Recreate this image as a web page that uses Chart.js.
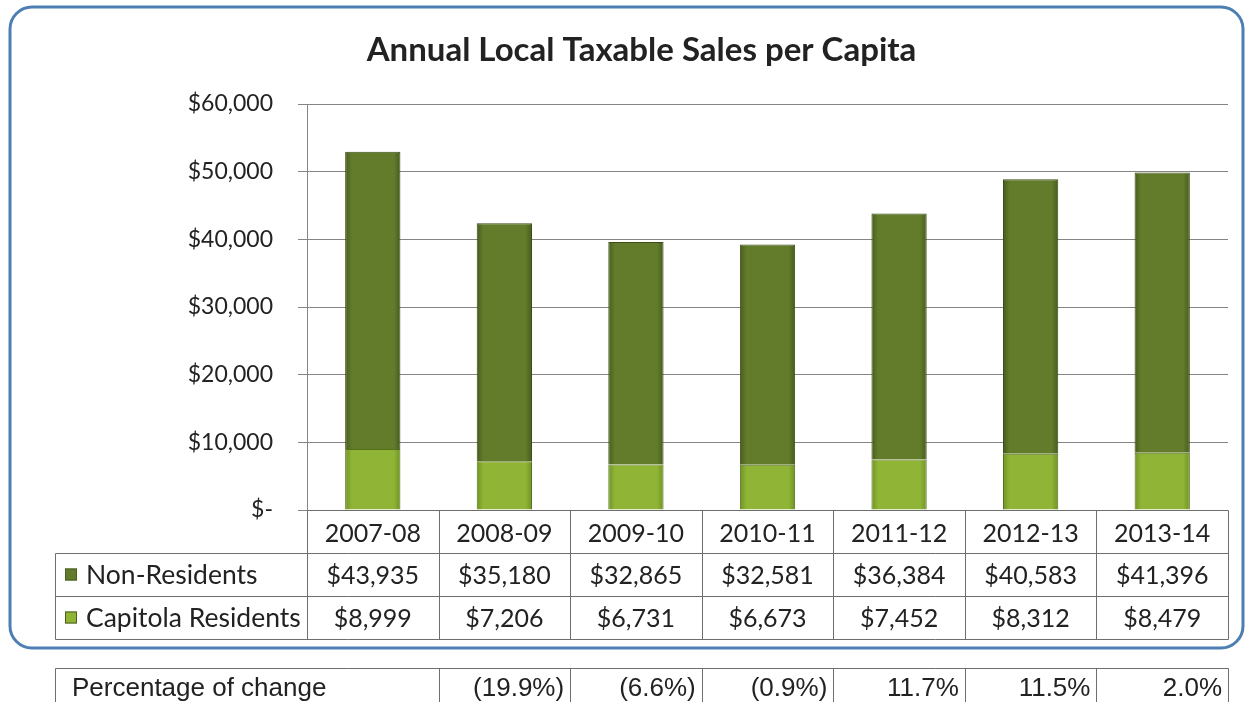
<!DOCTYPE html>
<html>
<head>
<meta charset="utf-8">
<script src="https://cdn.jsdelivr.net/npm/chart.js@4.4.1/dist/chart.umd.min.js"></script>
<style>
  html, body { margin: 0; padding: 0; background: #fff; }
  #wrap { position: relative; width: 1247px; height: 702px; }
</style>
</head>
<body>
<div id="wrap"><canvas id="sales-chart" width="1247" height="702"></canvas></div>
<script>
const years = ["2007-08", "2008-09", "2009-10", "2010-11", "2011-12", "2012-13", "2013-14"];
const nonResidents = [43935, 35180, 32865, 32581, 36384, 40583, 41396];
const capitolaResidents = [8999, 7206, 6731, 6673, 7452, 8312, 8479];
// change vs previous year, first year has none
const percentChange = [null, -19.9, -6.6, -0.9, 11.7, 11.5, 2.0];
const yTickValues = [0, 10000, 20000, 30000, 40000, 50000, 60000];

const titleText = "Annual Local Taxable Sales per Capita";
const nonResLabel = "Non-Residents";
const resLabel = "Capitola Residents";
const changeLabel = "Percentage of change";

const darkGreen = "#627c2c";
const lightGreen = "#8fb436";
const lineColor = "#6e6e6e";
const textColor = "#222";
const calibriLike = "Lato, 'Open Sans', sans-serif";
const barPct = 0.42;

function formatCurrency(value) {
  if (value === 0) return "$-";
  return "$" + value.toLocaleString("en-US");
}
function formatPercent(value) {
  const txt = Math.abs(value).toFixed(1) + "%";
  return value < 0 ? "(" + txt + ")" : txt;
}

// left-to-right shading so the bars look a bit rounded like the excel bevel
function barShade(edge, mid) {
  return (context) => {
    const chart = context.chart;
    const x = chart.scales.x;
    if (!chart.chartArea || !x) return mid;
    const colW = (chart.chartArea.right - chart.chartArea.left) / years.length;
    const cx = x.getPixelForValue(context.dataIndex);
    const half = colW * barPct / 2;
    const g = chart.ctx.createLinearGradient(cx - half, 0, cx + half, 0);
    g.addColorStop(0, edge);
    g.addColorStop(0.12, mid);
    g.addColorStop(0.88, mid);
    g.addColorStop(1, edge);
    return g;
  };
}

const frame = {
  id: "frame",
  beforeDraw(chart) {
    const { ctx } = chart;
    ctx.save();
    ctx.fillStyle = "#fff";
    ctx.fillRect(0, 0, chart.width, chart.height);
    ctx.strokeStyle = "#4d7fb3";
    ctx.lineWidth = 3;
    ctx.beginPath();
    ctx.roundRect(10, 7, 1233, 641, 22);
    ctx.stroke();
    ctx.restore();
  },
};

// data table under the plot, columns follow the category scale
const dataTable = {
  id: "dataTable",
  afterDraw(chart) {
    const { ctx, chartArea } = chart;
    const x = chart.scales.x;
    const n = years.length;
    const colW = (chartArea.right - chartArea.left) / n;
    const edges = [];
    for (let i = 0; i <= n; i++) edges.push(x.getPixelForValue(0) - colW / 2 + i * colW);
    const legendLeft = 55;
    const rowH = (x.bottom - x.top);
    const top = x.top;
    const r1 = x.bottom;
    const r2 = r1 + rowH;
    const r3 = r2 + rowH;

    ctx.save();
    ctx.strokeStyle = lineColor;
    ctx.lineWidth = 1;
    const line = (x1, y1, x2, y2) => {
      ctx.beginPath();
      ctx.moveTo(Math.round(x1) + 0.5, Math.round(y1) + 0.5);
      ctx.lineTo(Math.round(x2) + 0.5, Math.round(y2) + 0.5);
      ctx.stroke();
    };
    line(edges[0], top, edges[n], top);
    line(legendLeft, r1, edges[n], r1);
    line(legendLeft, r2, edges[n], r2);
    line(legendLeft, r3, edges[n], r3);
    line(legendLeft, r1, legendLeft, r3);
    edges.forEach((ex) => line(ex, top, ex, r3));

    ctx.textBaseline = "middle";
    const rows = [
      { label: nonResLabel, color: darkGreen, values: nonResidents, y: (r1 + r2) / 2 },
      { label: resLabel, color: lightGreen, values: capitolaResidents, y: (r2 + r3) / 2 },
    ];
    rows.forEach((row) => {
      ctx.fillStyle = row.color;
      ctx.fillRect(legendLeft + 10, row.y - 6, 12, 12);
      ctx.strokeStyle = "#4a5e22";
      ctx.strokeRect(legendLeft + 10.5, row.y - 5.5, 11, 11);
      ctx.fillStyle = textColor;
      ctx.textAlign = "left";
      ctx.font = "26.5px " + calibriLike;
      ctx.fillText(row.label, legendLeft + 31, row.y + 1);
      ctx.textAlign = "center";
      ctx.font = "25px " + calibriLike;
      row.values.forEach((v, i) => {
        ctx.fillText(formatCurrency(v), (edges[i] + edges[i + 1]) / 2, row.y + 1);
      });
    });

    // percentage of change table, below the frame
    const pTop = 668;
    const pBottom = 730;
    ctx.strokeStyle = lineColor;
    line(legendLeft, pTop, edges[n], pTop);
    line(legendLeft, pTop, legendLeft, pBottom);
    for (let i = 1; i <= n; i++) line(edges[i], pTop, edges[i], pBottom);
    ctx.font = "26px 'Liberation Sans', Arial, sans-serif";
    ctx.fillStyle = textColor;
    ctx.textAlign = "left";
    ctx.fillText(changeLabel, legendLeft + 17, pTop + 21);
    ctx.textAlign = "right";
    percentChange.forEach((v, i) => {
      if (v === null) return;
      ctx.fillText(formatPercent(v), edges[i + 1] - 6, pTop + 21);
    });
    ctx.restore();
  },
};

new Chart(document.getElementById("sales-chart"), {
  type: "bar",
  data: {
    labels: years,
    datasets: [
      {
        label: resLabel,
        data: capitolaResidents,
        backgroundColor: barShade("#6f9424", lightGreen),
        borderColor: "#55701b",
        borderWidth: 1,
        barPercentage: barPct,
        categoryPercentage: 1,
      },
      {
        label: nonResLabel,
        data: nonResidents,
        backgroundColor: barShade("#465c1c", darkGreen),
        borderColor: "#3a4b16",
        borderWidth: 1,
        barPercentage: barPct,
        categoryPercentage: 1,
      },
    ],
  },
  options: {
    responsive: false,
    animation: false,
    layout: { padding: { left: 55, right: 19, top: 0, bottom: 149 } },
    plugins: {
      legend: { display: false },
      tooltip: { enabled: false },
      title: {
        display: true,
        text: titleText,
        color: textColor,
        font: { family: calibriLike, size: 33, weight: "bold" },
        padding: { top: 31, bottom: 33.4 },
      },
    },
    scales: {
      x: {
        stacked: true,
        grid: { display: false, drawTicks: false },
        border: { display: false },
        ticks: { color: textColor, font: { family: calibriLike, size: 25 }, padding: 9 },
        afterFit(scale) { scale.height = 43; },
      },
      y: {
        stacked: true,
        min: yTickValues[0],
        max: yTickValues[yTickValues.length - 1],
        afterBuildTicks(scale) { scale.ticks = yTickValues.map((v) => ({ value: v })); },
        grid: { color: "#858585", tickLength: 9 },
        border: { color: "#858585" },
        ticks: {
          color: textColor,
          font: { family: calibriLike, size: 23 },
          padding: 25,
          callback: (v) => formatCurrency(v),
        },
        afterFit(scale) { scale.width = 252; },
      },
    },
  },
  plugins: [frame, dataTable],
});
</script>
</body>
</html>
